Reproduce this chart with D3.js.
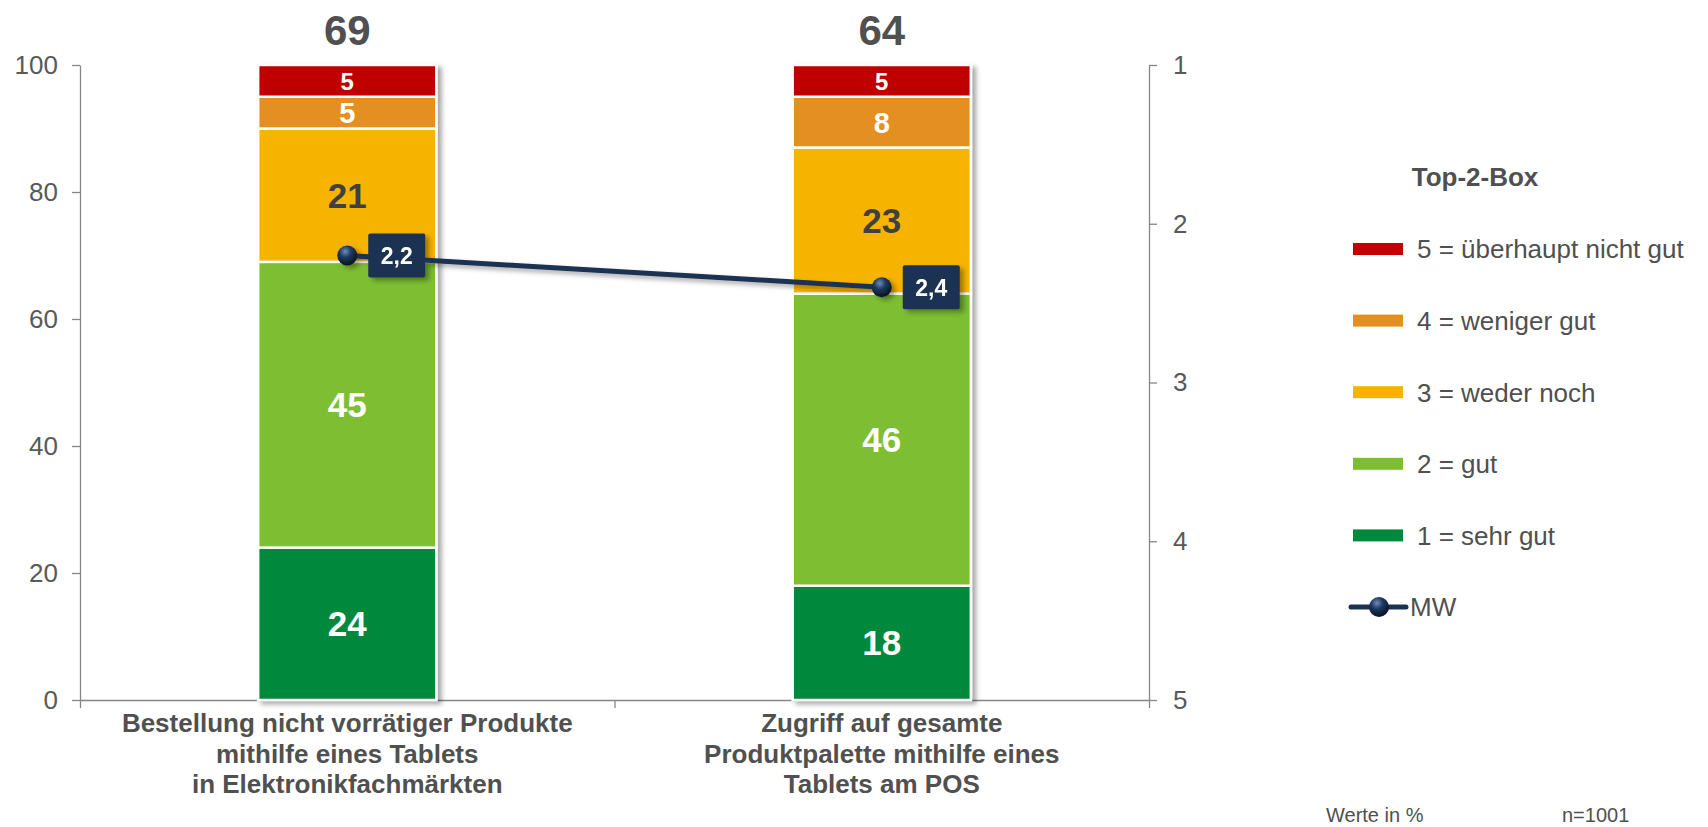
<!DOCTYPE html>
<html lang='de'>

<head>
   <meta charset='UTF-8'>
   <title>Top-2-Box Tablet</title>
   <script src='https://d3js.org/d3.v7.min.js'></script>
   <style>
      body {
         margin: 0;
         background: #fff;
      }

      svg {
         display: block;
         font-family: Arial, 'Liberation Sans', sans-serif;
      }

      .axis path,
      .axis line {
         stroke: #868686;
         stroke-width: 1.3px;
      }

      .axis text {
         fill: #595959;
         font-size: 26px;
      }
   </style>
</head>

<body>
   <div id='chart'></div>
   <script>
      // data
      const categories = ['Bestellung', 'Zugriff'];
      const categoryLines = [
         ['Bestellung nicht vorrätiger Produkte', 'mithilfe eines Tablets', 'in Elektronikfachmärkten'],
         ['Zugriff auf gesamte', 'Produktpalette mithilfe eines', 'Tablets am POS']
      ];
      const levels = ['1 = sehr gut', '2 = gut', '3 = weder noch', '4 = weniger gut', '5 = überhaupt nicht gut'];
      const sehrGut = [24, 18];
      const gut = [45, 46];
      const wederNoch = [21, 23];
      const wenigerGut = [5, 8];
      const nichtGut = [5, 5];
      const top2Box = [69, 64];
      const mw = [2.2, 2.4];
      const leftTicks = [0, 20, 40, 60, 80, 100];
      const rightTicks = [1, 2, 3, 4, 5];

      const colours = ['#00883d', '#7dbe32', '#f6b400', '#e48f22', '#c00000'];
      const labelSizes = [35, 35, 35, 29, 24];
      const navy = '#1b3152';

      const W = 1708, H = 827;
      const plotLeft = 80, plotRight = 1149, plotTop = 65, plotBottom = 700;

      const table = categories.map((c, i) => ({
         cat: c,
         [levels[0]]: sehrGut[i],
         [levels[1]]: gut[i],
         [levels[2]]: wederNoch[i],
         [levels[3]]: wenigerGut[i],
         [levels[4]]: nichtGut[i]
      }));
      const series = d3.stack().keys(levels)(table);

      const svg = d3.select('#chart').append('svg').attr('width', W).attr('height', H);

      const defs = svg.append('defs');
      defs.append('filter').attr('id', 'shadow').attr('x', '-10%').attr('y', '-10%').attr('width', '130%').attr('height', '130%')
         .append('feDropShadow').attr('dx', 4).attr('dy', 3).attr('stdDeviation', 2.5)
         .attr('flood-color', '#000').attr('flood-opacity', 0.35);
      const grad = defs.append('radialGradient').attr('id', 'ball').attr('cx', '40%').attr('cy', '30%').attr('r', '65%');
      grad.append('stop').attr('offset', '0%').attr('stop-color', '#6d8cb8');
      grad.append('stop').attr('offset', '45%').attr('stop-color', '#1e3a62');
      grad.append('stop').attr('offset', '100%').attr('stop-color', '#0b1628');

      const x = d3.scaleBand().domain(categories).range([plotLeft, plotRight]).paddingInner(2 / 3).paddingOuter(1 / 3);
      const xEdges = d3.scaleLinear().domain([0, categories.length]).range([plotLeft, plotRight]);
      const y = d3.scaleLinear().domain([0, 100]).range([plotBottom, plotTop]);
      const yMw = d3.scaleLinear().domain([1, 5]).range([plotTop, plotBottom]);

      const commaFmt = d3.formatLocale({ decimal: ',', thousands: '.', grouping: [3], currency: ['', '€'] }).format('.1f');

      // axes
      svg.append('g').attr('class', 'axis').attr('transform', `translate(${plotLeft},0)`)
         .call(d3.axisLeft(y).tickValues(leftTicks).tickSize(8).tickPadding(14).tickSizeOuter(0));
      svg.append('g').attr('class', 'axis').attr('transform', `translate(${plotRight},0)`)
         .call(d3.axisRight(yMw).tickValues(rightTicks).tickFormat(d3.format('d')).tickSize(8).tickPadding(16).tickSizeOuter(0));
      svg.append('g').attr('class', 'axis').attr('transform', `translate(0,${plotBottom})`)
         .call(d3.axisBottom(xEdges).tickValues(d3.range(categories.length + 1)).tickSize(8).tickFormat('').tickSizeOuter(0));

      // bars
      const bars = svg.append('g').attr('filter', 'url(#shadow)');
      bars.selectAll('g').data(series).join('g')
         .attr('fill', (d, i) => colours[i])
         .selectAll('rect').data(d => d).join('rect')
         .attr('x', d => x(d.data.cat))
         .attr('width', x.bandwidth())
         .attr('y', d => y(d[1]))
         .attr('height', d => y(d[0]) - y(d[1]))
         .attr('stroke', '#fff')
         .attr('stroke-width', 2.5);

      // segment labels
      const labels = svg.append('g').attr('text-anchor', 'middle').attr('font-weight', 'bold');
      series.forEach((s, i) => {
         labels.selectAll(null).data(s).join('text')
            .attr('x', d => x(d.data.cat) + x.bandwidth() / 2)
            .attr('y', d => (y(d[0]) + y(d[1])) / 2)
            .attr('dy', '0.36em')
            .attr('font-size', labelSizes[i])
            .attr('fill', i === 2 ? '#404040' : '#fff')
            .text(d => d[1] - d[0]);
      });

      // top-2-box totals
      svg.append('g').selectAll('text').data(top2Box).join('text')
         .attr('x', (d, i) => x(categories[i]) + x.bandwidth() / 2)
         .attr('y', 45)
         .attr('text-anchor', 'middle')
         .attr('font-weight', 'bold')
         .attr('font-size', 42)
         .attr('fill', '#505050')
         .text(d => d);

      // category labels
      const catG = svg.append('g').attr('text-anchor', 'middle').attr('font-weight', 'bold')
         .attr('font-size', 26).attr('fill', '#505050');
      categoryLines.forEach((lines, i) => {
         catG.selectAll(null).data(lines).join('text')
            .attr('x', x(categories[i]) + x.bandwidth() / 2)
            .attr('y', (d, j) => 732 + j * 30.5)
            .text(d => d);
      });

      // MW line
      const cx = (d, i) => x(categories[i]) + x.bandwidth() / 2;
      const mwG = svg.append('g').attr('filter', 'url(#shadow)');
      mwG.append('path')
         .attr('d', d3.line().x(cx).y(d => yMw(d))(mw))
         .attr('fill', 'none').attr('stroke', navy).attr('stroke-width', 5);
      mwG.selectAll('circle').data(mw).join('circle')
         .attr('cx', cx).attr('cy', d => yMw(d)).attr('r', 10)
         .attr('fill', 'url(#ball)');
      const boxes = mwG.selectAll('g.box').data(mw).join('g').attr('class', 'box')
         .attr('transform', (d, i) => `translate(${cx(d, i) + 21},${yMw(d) - 22})`);
      boxes.append('rect').attr('width', 57).attr('height', 44).attr('rx', 2).attr('fill', navy);
      boxes.append('text').attr('x', 28.5).attr('y', 22).attr('dy', '0.36em')
         .attr('text-anchor', 'middle').attr('font-weight', 'bold').attr('font-size', 23)
         .attr('fill', '#fff').text(d => commaFmt(d));

      // legend
      const legend = svg.append('g');
      legend.append('text').attr('x', 1475).attr('y', 186).attr('text-anchor', 'middle')
         .attr('font-weight', 'bold').attr('font-size', 26).attr('fill', '#505050').text('Top-2-Box');
      const legendRows = levels.slice().reverse();
      const rowY = i => 249 + i * 71.6;
      legendRows.forEach((lab, i) => {
         legend.append('rect').attr('x', 1353).attr('y', rowY(i) - 6).attr('width', 50).attr('height', 12)
            .attr('fill', colours[levels.length - 1 - i]);
         legend.append('text').attr('x', 1417).attr('y', rowY(i)).attr('dy', '0.36em')
            .attr('font-size', 26).attr('fill', '#505050').text(lab);
      });
      const mwRowY = rowY(legendRows.length);
      legend.append('line').attr('x1', 1351).attr('x2', 1406).attr('y1', mwRowY).attr('y2', mwRowY)
         .attr('stroke', navy).attr('stroke-width', 5).attr('stroke-linecap', 'round');
      legend.append('circle').attr('cx', 1379).attr('cy', mwRowY).attr('r', 10).attr('fill', 'url(#ball)');
      legend.append('text').attr('x', 1410).attr('y', mwRowY).attr('dy', '0.36em')
         .attr('font-size', 26).attr('fill', '#505050').text('MW');

      // footnotes
      svg.append('text').attr('x', 1326).attr('y', 822).attr('font-size', 20).attr('fill', '#505050').text('Werte in %');
      svg.append('text').attr('x', 1562).attr('y', 822).attr('font-size', 20).attr('fill', '#505050').text('n=1001');
   </script>
</body>

</html>
